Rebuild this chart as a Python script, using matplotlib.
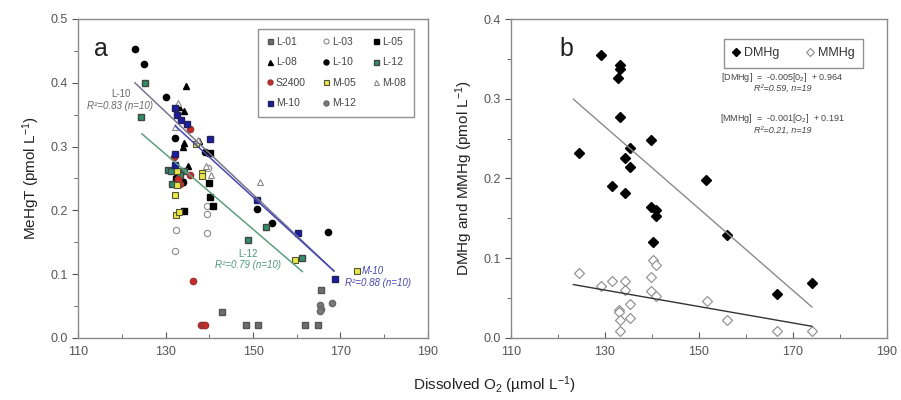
import matplotlib
matplotlib.use("Agg")
import matplotlib.pyplot as plt
import numpy as np
from matplotlib.ticker import MultipleLocator, FixedLocator

plt.rcParams['font.family'] = ['Liberation Sans', 'DejaVu Sans']
plt.rcParams['mathtext.fontset'] = 'custom'
plt.rcParams['mathtext.rm'] = 'Liberation Sans'
plt.rcParams['mathtext.it'] = 'Liberation Sans:italic'

# ---- panel a: MeHgT vs dissolved O2, per station ----
L01_x = [143.0, 148.3, 151.2, 161.8, 164.8, 165.6]
L01_y = [0.040, 0.020, 0.020, 0.020, 0.020, 0.076]
L03_x = [132.1, 132.3, 139.5, 139.5, 139.5, 139.7, 131.9]
L03_y = [0.136, 0.170, 0.165, 0.195, 0.207, 0.266, 0.262]
L05_x = [134.2, 140.1, 140.0, 140.1, 140.9, 132.4, 133.8]
L05_y = [0.199, 0.290, 0.243, 0.221, 0.207, 0.250, 0.245]
L08_x = [134.6, 134.2, 134.2, 135.2, 137.6, 133.0, 134.0, 132.0]
L08_y = [0.395, 0.356, 0.305, 0.270, 0.309, 0.362, 0.300, 0.270]
L10_x = [123.0, 125.0, 130.2, 132.1, 134.0, 139.0, 150.9, 154.3, 167.2, 132.3]
L10_y = [0.453, 0.429, 0.378, 0.314, 0.245, 0.292, 0.202, 0.181, 0.166, 0.260]
L12_x = [125.3, 124.3, 130.6, 131.5, 134.2, 148.9, 152.9, 161.3, 131.2, 133.2]
L12_y = [0.399, 0.347, 0.264, 0.241, 0.262, 0.154, 0.174, 0.126, 0.262, 0.255]
S2400_x = [135.7, 136.3, 138.2, 138.6, 139.0, 132.0, 133.4, 135.5, 132.8]
S2400_y = [0.328, 0.090, 0.020, 0.020, 0.020, 0.284, 0.242, 0.256, 0.250]
M05_x = [132.2, 132.5, 133.0, 132.6, 132.6, 136.9, 138.4, 138.4, 159.6, 173.7]
M05_y = [0.224, 0.193, 0.197, 0.240, 0.262, 0.304, 0.258, 0.254, 0.123, 0.105]
M08_x = [132.8, 151.6, 140.5, 137.5, 132.2, 139.3]
M08_y = [0.368, 0.245, 0.256, 0.310, 0.331, 0.270]
M10_x = [132.1, 132.7, 133.5, 135.0, 140.2, 132.1, 150.9, 160.3, 168.8, 132.1]
M10_y = [0.360, 0.350, 0.341, 0.336, 0.312, 0.289, 0.216, 0.164, 0.092, 0.271]
M12_x = [165.3, 165.5, 165.4, 168.0]
M12_y = [0.052, 0.046, 0.042, 0.055]

# linear fits: (slope, intercept, x start, x end)
fit_L10 = (-0.00648, 1.197, 123.0, 168.5)
fit_M10 = (-0.00627, 1.1615, 132.3, 168.5)
fit_L12 = (-0.005886, 1.0534, 124.6, 161.3)

# ---- panel b: DMHg and MMHg vs dissolved O2 ----
dm_x = [129.2, 133.3, 133.3, 132.9, 133.3, 124.5, 139.9, 135.4, 134.3, 135.4,
        131.5, 134.3, 139.9, 140.8, 141.0, 140.3, 156.0, 166.6, 174.1, 151.5]
dm_y = [0.355, 0.342, 0.337, 0.326, 0.277, 0.232, 0.248, 0.238, 0.226, 0.214,
        0.190, 0.182, 0.164, 0.161, 0.153, 0.121, 0.129, 0.055, 0.069, 0.198]
mm_x = [124.5, 129.1, 131.5, 134.3, 134.3, 135.4, 133.1, 133.1, 133.3, 133.3,
        135.4, 140.3, 140.8, 139.9, 139.9, 141.0, 151.8, 156.0, 166.6, 174.1]
mm_y = [0.082, 0.065, 0.071, 0.071, 0.060, 0.043, 0.035, 0.033, 0.023, 0.009,
        0.025, 0.098, 0.092, 0.077, 0.059, 0.053, 0.046, 0.023, 0.009, 0.009]
fit_dm = (-0.00513, 0.932, 123.3, 174.1)
fit_mm = (-0.00103, 0.194, 123.3, 174.1)

x_major = [110, 130, 150, 170, 190]
x_minor = [120, 140, 160, 180]

TICK_C = '#555555'
SPINE_C = '#8a8a8a'


def style_axes(ax, ymax):
    ax.set_xlim(110, 190)
    ax.set_ylim(0, ymax)
    ax.xaxis.set_major_locator(FixedLocator(x_major))
    ax.xaxis.set_minor_locator(FixedLocator(x_minor))
    ax.yaxis.set_major_locator(MultipleLocator(0.1))
    ax.yaxis.set_minor_locator(MultipleLocator(0.05))
    ax.yaxis.set_major_formatter(matplotlib.ticker.FormatStrFormatter('%.1f'))
    ax.tick_params(axis='x', which='both', direction='in', colors=TICK_C,
                   labelsize=9, pad=6)
    ax.tick_params(axis='y', which='both', direction='out', colors=TICK_C,
                   labelsize=9)
    ax.tick_params(which='major', length=4)
    ax.tick_params(which='minor', length=3)
    for s in ax.spines.values():
        s.set_color(SPINE_C)
        s.set_linewidth(1.0)


def fit_line(ax, fit, **kw):
    a, b, x0, x1 = fit
    xs = np.array([x0, x1])
    ax.plot(xs, a * xs + b, **kw)


fig = plt.figure(figsize=(9.01, 4.0), dpi=100)
ax1 = fig.add_axes([0.0866, 0.155, 0.3884, 0.7975])
ax2 = fig.add_axes([0.567, 0.155, 0.417, 0.7975])

ms = 4.5
series = [
    ('L-01', L01_x, L01_y, dict(marker='s', color='#6e6e6e', mec='#555555')),
    ('L-03', L03_x, L03_y, dict(marker='o', mfc='white', mec='#8a8a8a', mew=0.8)),
    ('L-05', L05_x, L05_y, dict(marker='s', color='black')),
    ('L-08', L08_x, L08_y, dict(marker='^', color='black')),
    ('L-10', L10_x, L10_y, dict(marker='o', color='black')),
    ('L-12', L12_x, L12_y, dict(marker='s', color='#2f8f6a', mec='#444444')),
    ('S2400', S2400_x, S2400_y, dict(marker='o', color='#cc2a2a', mec='#993333')),
    ('M-05', M05_x, M05_y, dict(marker='s', mfc='#e9e64a', mec='#555533', mew=0.8)),
    ('M-08', M08_x, M08_y, dict(marker='^', mfc='white', mec='#8a8a8a', mew=0.8)),
    ('M-10', M10_x, M10_y, dict(marker='s', color='#1c1ca8', mec='#222255')),
    ('M-12', M12_x, M12_y, dict(marker='o', color='#7a7a7a', mec='#666666')),
]
handles = {}
for name, xs, ys, kw in series:
    h, = ax1.plot(xs, ys, ls='none', ms=ms, label=name, **kw)
    handles[name] = h

fit_line(ax1, fit_L10, color='#76768c', lw=1.1)
fit_line(ax1, fit_M10, color='#4848b0', lw=1.1)
fit_line(ax1, fit_L12, color='#5e9e80', lw=1.1)

style_axes(ax1, 0.5)
ax1.set_ylabel('MeHgT (pmol L$^{\\mathregular{-1}}$)', fontsize=11, color='#222222',
               labelpad=6)
ax1.text(0.045, 0.905, 'a', transform=ax1.transAxes, fontsize=18, va='center',
         ha='left', color='#222222')

# legend is filled column by column, so order the handles accordingly
order = ['L-01', 'L-08', 'S2400', 'M-10', 'L-03', 'L-10', 'M-05', 'M-12',
         'L-05', 'L-12', 'M-08']
leg1 = ax1.legend([handles[k] for k in order], order, ncol=3, loc='upper right',
                  bbox_to_anchor=(0.976, 0.986), fontsize=7.5, frameon=True,
                  fancybox=False, edgecolor='#777777', handlelength=0.6,
                  handletextpad=0.3, columnspacing=1.6, labelspacing=1.0,
                  borderpad=0.8, markerscale=0.8, labelcolor='#444444')
leg1.get_frame().set_linewidth(1.0)

ax1.text(119.8, 0.378, 'L-10', fontsize=7, color='#666666', ha='center')
ax1.text(119.6, 0.359, 'R²=0.83 (n=10)', fontsize=7, color='#666666',
         ha='center', style='italic')
ax1.text(148.9, 0.127, 'L-12', fontsize=7, color='#4e9a78', ha='center')
ax1.text(148.9, 0.109, 'R²=0.79 (n=10)', fontsize=7, color='#4e9a78',
         ha='center', style='italic')
ax1.text(177.4, 0.100, 'M-10', fontsize=7, color='#4545b0', ha='center',
         style='italic')
ax1.text(178.6, 0.081, 'R²=0.88 (n=10)', fontsize=7, color='#4545b0',
         ha='center', style='italic')

# panel b
h_dm, = ax2.plot(dm_x, dm_y, ls='none', marker='D', ms=5, color='black')
h_mm, = ax2.plot(mm_x, mm_y, ls='none', marker='D', ms=5, mfc='white',
                 mec='#8a8a8a', mew=0.8)
fit_line(ax2, fit_dm, color='#8a8a8a', lw=1.0)
fit_line(ax2, fit_mm, color='#333333', lw=1.0)

style_axes(ax2, 0.4)
ax2.set_ylabel('DMHg and MMHg (pmol L$^{\\mathregular{-1}}$)', fontsize=11,
               color='#222222', labelpad=6)
ax2.text(0.13, 0.905, 'b', transform=ax2.transAxes, fontsize=18, va='center',
         color='#222222')

leg2 = ax2.legend([h_dm, h_mm], ['DMHg', 'MMHg'], ncol=2, loc='upper right',
                  bbox_to_anchor=(0.955, 0.958), fontsize=9, frameon=True,
                  fancybox=False, edgecolor='#777777', handlelength=0.6,
                  handletextpad=0.3, columnspacing=2.2, borderpad=0.7,
                  markerscale=0.9, labelcolor='#333333')
leg2.get_frame().set_linewidth(1.0)

eq_kw = dict(transform=ax2.transAxes, fontsize=6.5, ha='center', va='center',
             color='#444444')
ax2.text(0.723, 0.818, '[DMHg]  =  -0.005[0$_2$]  + 0.964', **eq_kw)
ax2.text(0.723, 0.784, 'R²=0.59, n=19', style='italic', **eq_kw)
ax2.text(0.723, 0.687, '[MMHg]  =  -0.001[O$_2$]  + 0.191', **eq_kw)
ax2.text(0.723, 0.652, 'R²=0.21, n=19', style='italic', **eq_kw)

fig.text(0.549, 0.038, 'Dissolved O$_2$ (µmol L$^{\\mathregular{-1}}$)', fontsize=11,
         ha='center', va='center', color='#222222')

fig.savefig('out.png', dpi=100)
